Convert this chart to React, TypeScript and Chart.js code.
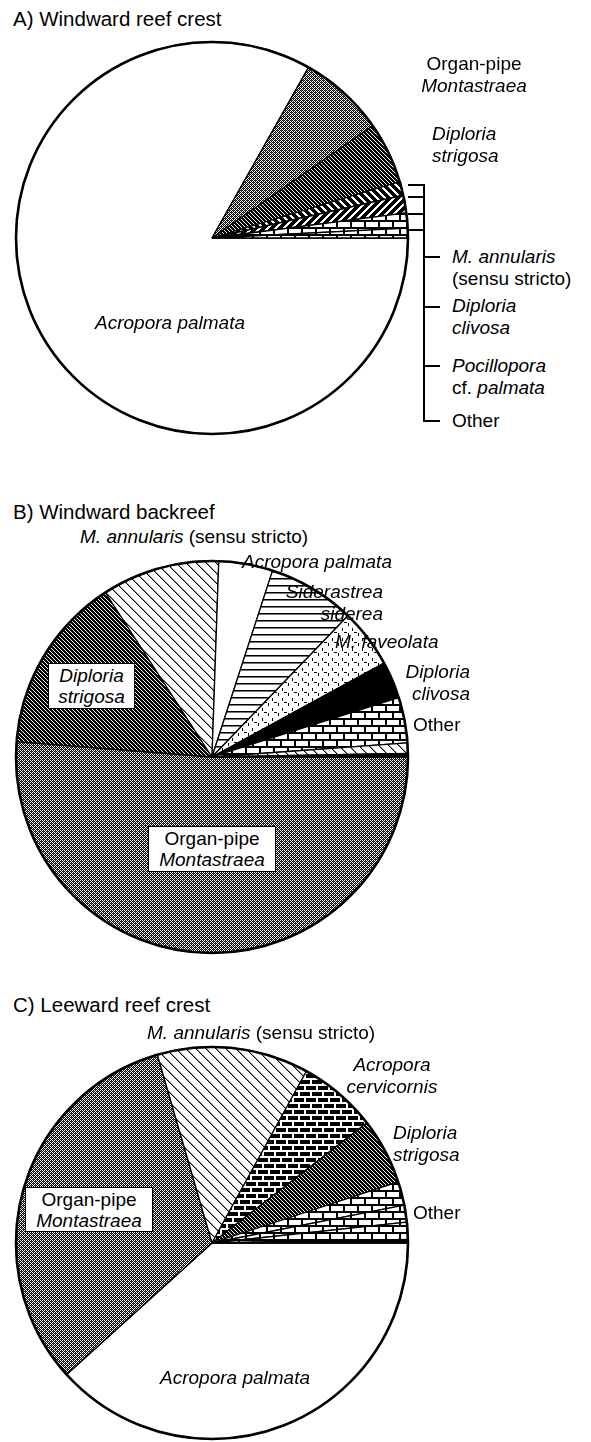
import React, { useEffect, useRef } from 'react';
import { Chart, registerables } from 'chart.js';
Chart.register(...registerables);

// ---------- DATA (percent of coral cover, clockwise from 3 o'clock) ----------
const labelsA = ['Acropora palmata', 'Organ-pipe Montastraea', 'Diploria strigosa', 'M. annularis (sensu stricto)', 'Diploria clivosa', 'Pocillopora cf. palmata', 'Other'];
const valuesA = [83.2, 7.1, 5.05, 1.15, 1.45, 1.25, 0.8];

const labelsB = ['Organ-pipe Montastraea', 'Diploria strigosa', 'M. annularis (sensu stricto)', 'Acropora palmata', 'Siderastrea siderea', 'M. faveolata', 'Diploria clivosa', 'Other', 'Other (2)', 'Other (3)'];
const valuesB = [51.25, 14.6, 9.7, 4.45, 7.2, 4.85, 3.05, 3.75, 0.85, 0.3];

const labelsC = ['Acropora palmata', 'Organ-pipe Montastraea', 'M. annularis (sensu stricto)', 'Acropora cervicornis', 'Diploria strigosa', 'Other', 'Other (2)', 'Other (3)', 'Other (4)'];
const valuesC = [38.3, 32.2, 12.5, 6.5, 5.45, 1.95, 1.4, 1.4, 0.3];

// ---------- STYLES ----------
const fillsA = ['white', 'gray', 'dense', 'thick', 'slash', 'brick', 'brick'];
const fillsB = ['gray', 'dense', 'sparse', 'white', 'horiz', 'dash', 'black', 'brick', 'sparse', 'black'];
const fillsC = ['white', 'gray', 'sparse', 'cerv', 'dense', 'brick', 'brick', 'brick', 'black'];

const FONT = '"Liberation Sans", Arial, Helvetica, sans-serif';
const LFS = 19; // label font size

function makePatterns(ctx: CanvasRenderingContext2D) {
  const tile = (w: number, h: number, paint: (g: CanvasRenderingContext2D) => void) => {
    const c = document.createElement('canvas');
    c.width = w; c.height = h;
    const g = c.getContext('2d')!;
    paint(g);
    return ctx.createPattern(c, 'repeat') as CanvasPattern;
  };
  const px = (g: CanvasRenderingContext2D, x: number, y: number, col: string) => { g.fillStyle = col; g.fillRect(x, y, 1, 1); };
  const map: Record<string, string | CanvasPattern> = {
    white: '#ffffff',
    black: '#000000',
    gray: tile(4, 4, g => {
      g.fillStyle = '#fff'; g.fillRect(0, 0, 4, 4);
      for (let x = 0; x < 4; x++) for (let y = 0; y < 4; y++) if ((x + y) % 2 === 0) px(g, x, y, '#000');
      px(g, 1, 0, '#555'); px(g, 3, 2, '#555');
    }),
    dense: tile(4, 4, g => { g.fillStyle = '#000'; g.fillRect(0, 0, 4, 4); for (let i = 0; i < 4; i++) { px(g, i, i, '#fff'); } }),
    sparse: tile(10, 10, g => { g.fillStyle = '#fff'; g.fillRect(0, 0, 10, 10); for (let i = 0; i < 10; i++) { px(g, i, i, '#000'); px(g, (i + 1) % 10, i, '#999'); } }),
    horiz: tile(4, 7, g => { g.fillStyle = '#fff'; g.fillRect(0, 0, 4, 7); g.fillStyle = '#000'; g.fillRect(0, 0, 4, 1); g.fillStyle = '#777'; g.fillRect(0, 1, 4, 1); }),
    dash: tile(10, 10, g => { g.fillStyle = '#fff'; g.fillRect(0, 0, 10, 10); g.fillStyle = '#000'; g.fillRect(2, 1, 1, 3); g.fillRect(4, 5, 3, 1); g.fillRect(8, 6, 1, 3); }),
    brick: tile(14, 14, g => { g.fillStyle = '#fff'; g.fillRect(0, 0, 14, 14); g.fillStyle = '#000'; g.fillRect(0, 0, 14, 2); g.fillRect(0, 7, 14, 2); g.fillRect(0, 2, 2, 5); g.fillRect(7, 9, 2, 5); }),
    cerv: tile(12, 12, g => { g.fillStyle = '#fff'; g.fillRect(0, 0, 12, 12); g.fillStyle = '#000'; g.fillRect(0, 1, 10, 4); g.fillRect(6, 7, 6, 4); g.fillRect(0, 7, 4, 4); }),
    thick: tile(8, 8, g => { for (let x = 0; x < 8; x++) for (let y = 0; y < 8; y++) px(g, x, y, ((x - y + 8) % 8) < 3 ? '#fff' : '#000'); }),
    slash: tile(8, 8, g => { for (let x = 0; x < 8; x++) for (let y = 0; y < 8; y++) px(g, x, y, ((x + y) % 8) < 3 ? '#fff' : '#000'); }),
  };
  return map;
}

const outline = {
  id: 'outline',
  afterDatasetsDraw(chart: any) {
    const arc = chart.getDatasetMeta(0).data[0] as any;
    if (!arc) return;
    const ctx = chart.ctx as CanvasRenderingContext2D;
    ctx.save();
    ctx.beginPath();
    ctx.arc(arc.x, arc.y, arc.outerRadius, 0, Math.PI * 2);
    ctx.lineWidth = 2.6;
    ctx.strokeStyle = '#000';
    ctx.stroke();
    ctx.restore();
  },
};

type PieProps = { labels: string[]; values: number[]; fills: string[]; top: number };

const CW = 430, CH = 400, R = 196;

function Pie({ labels, values, fills, top }: PieProps) {
  const ref = useRef<HTMLCanvasElement>(null);
  useEffect(() => {
    const canvas = ref.current!;
    const ctx = canvas.getContext('2d')!;
    const pats = makePatterns(ctx);
    const chart = new Chart(canvas, {
      type: 'pie',
      data: {
        labels,
        datasets: [{
          data: values,
          backgroundColor: fills.map(f => pats[f]) as any,
          borderColor: '#000',
          borderWidth: 1.3,
          hoverOffset: 0,
        }],
      },
      options: {
        responsive: false,
        animation: false,
        events: [],
        rotation: 90,
        radius: R,
        layout: { padding: { left: 16, right: CW - 16 - 2 * R, top: 4, bottom: 4 } },
        plugins: { legend: { display: false }, tooltip: { enabled: false }, title: { display: false } },
      },
      plugins: [outline],
    });
    return () => chart.destroy();
  }, []);
  return <canvas ref={ref} width={CW} height={CH} style={{ position: 'absolute', left: 0, top, width: CW, height: CH }} />;
}

type Seg = { t: string; i?: boolean };
type Lbl = { x: number; y: number; lines: Seg[][]; align?: 'left' | 'center' | 'right' };

const LH = 22;

function Label({ x, y, lines, align = 'left' }: Lbl) {
  const tx = align === 'left' ? '0' : align === 'center' ? '-50%' : '-100%';
  return (
    <div style={{ position: 'absolute', left: x, top: y - 11, transform: `translateX(${tx})`, textAlign: align, whiteSpace: 'nowrap', fontSize: LFS, lineHeight: `${LH}px` }}>
      {lines.map((ln, k) => (
        <div key={k}>{ln.map((s, j) => <span key={j} style={{ fontStyle: s.i ? 'italic' : 'normal' }}>{s.t}</span>)}</div>
      ))}
    </div>
  );
}

function Box({ x, y, w, h, lines }: { x: number; y: number; w: number; h: number; lines: Seg[][] }) {
  return (
    <div style={{ position: 'absolute', left: x, top: y, width: w, height: h, boxSizing: 'border-box', border: '1.5px solid #000', background: '#fff', display: 'flex', flexDirection: 'column', justifyContent: 'center', alignItems: 'center', fontSize: LFS, lineHeight: `${LH - 1}px` }}>
      {lines.map((ln, k) => (
        <div key={k} style={{ whiteSpace: 'nowrap' }}>{ln.map((s, j) => <span key={j} style={{ fontStyle: s.i ? 'italic' : 'normal' }}>{s.t}</span>)}</div>
      ))}
    </div>
  );
}

function Line({ x, y, w, h }: { x: number; y: number; w: number; h: number }) {
  return <div style={{ position: 'absolute', left: x, top: y, width: w, height: h, background: '#000' }} />;
}

function Title({ y, text }: { y: number; text: string }) {
  return <div style={{ position: 'absolute', left: 13, top: y - 12, fontSize: 20.5, lineHeight: '24px', whiteSpace: 'nowrap' }}>{text}</div>;
}

const it = (t: string): Seg => ({ t, i: true });
const rm = (t: string): Seg => ({ t });

export default function App() {
  const bx = 423;
  return (
    <div style={{ position: 'absolute', left: 0, top: 0, width: 591, height: 1442, background: '#fff', fontFamily: FONT, color: '#000', overflow: 'hidden' }}>
      {/* A */}
      <Title y={19} text="A) Windward reef crest" />
      <Pie labels={labelsA} values={valuesA} fills={fillsA} top={38} />
      <Label x={474} y={64} align="center" lines={[[rm('Organ-pipe')], [it('Montastraea')]]} />
      <Label x={432} y={134} lines={[[it('Diploria')], [it('strigosa')]]} />
      <Label x={452} y={257} lines={[[it('M. annularis')], [rm('(sensu stricto)')]]} />
      <Label x={452} y={306} lines={[[it('Diploria')], [it('clivosa')]]} />
      <Label x={452} y={366} lines={[[it('Pocillopora')], [rm('cf. '), it('palmata')]]} />
      <Label x={452} y={421} lines={[[rm('Other')]]} />
      <Label x={170} y={323} align="center" lines={[[it('Acropora palmata')]]} />
      <Line x={bx} y={184} w={1.6} h={237} />
      <Line x={408} y={184} w={bx - 408 + 1.6} h={1.6} />
      <Line x={408} y={196} w={bx - 408} h={1.6} />
      <Line x={408} y={213} w={bx - 408} h={1.6} />
      <Line x={408} y={229} w={bx - 408} h={1.6} />
      <Line x={bx} y={256} w={17} h={1.6} />
      <Line x={bx} y={306} w={17} h={1.6} />
      <Line x={bx} y={365} w={17} h={1.6} />
      <Line x={bx} y={420} w={17} h={1.6} />

      {/* B */}
      <Title y={512} text="B) Windward backreef" />
      <Pie labels={labelsB} values={valuesB} fills={fillsB} top={557} />
      <Label x={80} y={537} lines={[[it('M. annularis'), rm(' (sensu stricto)')]]} />
      <Label x={242} y={562} lines={[[it('Acropora palmata')]]} />
      <Label x={383} y={592} align="right" lines={[[it('Siderastrea')], [it('siderea')]]} />
      <Label x={335} y={642} lines={[[it('M. faveolata')]]} />
      <Label x={470} y={672} align="right" lines={[[it('Diploria')], [it('clivosa')]]} />
      <Label x={413} y={725} lines={[[rm('Other')]]} />
      <Box x={48} y={663} w={87} h={46} lines={[[it('Diploria')], [it('strigosa')]]} />
      <Box x={148} y={826} w={128} h={46} lines={[[rm('Organ-pipe')], [it('Montastraea')]]} />

      {/* C */}
      <Title y={1005} text="C) Leeward reef crest" />
      <Pie labels={labelsC} values={valuesC} fills={fillsC} top={1043} />
      <Label x={147} y={1033} lines={[[it('M. annularis'), rm(' (sensu stricto)')]]} />
      <Label x={392} y={1065} align="center" lines={[[it('Acropora')], [it('cervicornis')]]} />
      <Label x={393} y={1133} lines={[[it('Diploria')], [it('strigosa')]]} />
      <Label x={413} y={1213} lines={[[rm('Other')]]} />
      <Box x={25} y={1187} w={128} h={45} lines={[[rm('Organ-pipe')], [it('Montastraea')]]} />
      <Label x={235} y={1378} align="center" lines={[[it('Acropora palmata')]]} />
    </div>
  );
}
